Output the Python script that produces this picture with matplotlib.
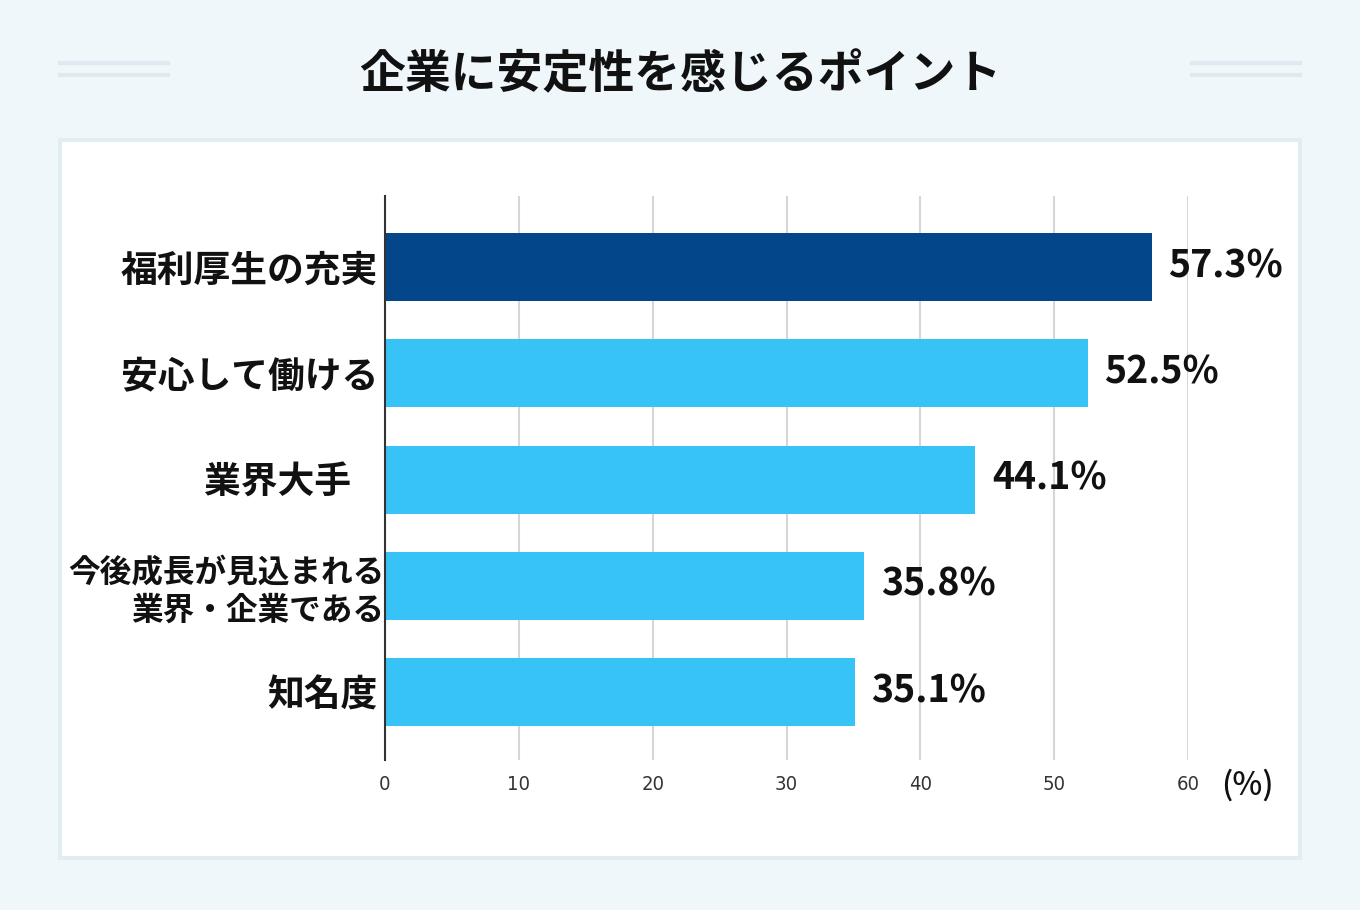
import matplotlib.pyplot as plt
from matplotlib.patches import Rectangle
from matplotlib.lines import Line2D
from matplotlib.transforms import ScaledTranslation

plt.rcParams['font.family'] = ['Noto Sans CJK JP', 'DejaVu Sans']

# データ
categories = ["福利厚生の充実", "安心して働ける", "業界大手\u2002 ", "今後成長が見込まれる\n業界・企業である", "知名度"]
values = [57.3, 52.5, 44.1, 35.8, 35.1]
value_labels = ["57.3%", "52.5%", "44.1%", "35.8%", "35.1%"]
xticks = [0, 10, 20, 30, 40, 50, 60]
title = "企業に安定性を感じるポイント"

bg = "#eff7fb"
navy = "#03468a"
sky = "#38c3f7"
colors = [navy, sky, sky, sky, sky]

fig = plt.figure(figsize=(13.6, 9.1), dpi=100, facecolor=bg)

# 白いパネル
fig.patches.append(Rectangle((60 / 1360, 1 - 858 / 910), 1240 / 1360, 718 / 910,
                             transform=fig.transFigure, facecolor="white",
                             edgecolor="#e2edf2", linewidth=3, zorder=-5))

# タイトル横の飾り線
for y in [63, 75]:
    for x0, x1 in [(60, 168), (1192, 1300)]:
        fig.lines.append(Line2D([x0 / 1360, x1 / 1360], [1 - y / 910, 1 - y / 910],
                                transform=fig.transFigure, color="#e0e9f0", linewidth=3))

fig.text(0.5, 1 - 75 / 910, title, ha="center", va="center",
         fontsize=33, fontweight="bold", color="#111111")

ax = fig.add_axes([385 / 1360, 1 - 760 / 910, 803 / 1360, 564 / 910])
ax.set_zorder(2)
ax.set_facecolor("none")

pos = list(range(len(categories)))
bars = ax.barh(pos, values, height=0.64, color=colors, zorder=3)

ax.set_xlim(0, 60)
ax.set_ylim(len(categories) - 1 + 0.64, -0.67)

ax.set_xticks(xticks)
ax.set_xticklabels([str(t) for t in xticks], fontsize=14.5, color="#333333",
                   family="DejaVu Sans", fontstretch="condensed")
ax.tick_params(axis="x", length=0, pad=11)
ax.grid(axis="x", color="#d6d6d6", linewidth=1.5, zorder=0)
ax.set_axisbelow(True)

ax.set_yticks(pos)
ax.set_yticklabels(categories, fontsize=26.5, fontweight="bold", color="#111111")
ax.tick_params(axis="y", length=0, pad=5)
for lbl in ax.get_yticklabels():
    if "\n" in lbl.get_text():
        lbl.set_fontsize(22.8)
        lbl.set_linespacing(1.22)
        lbl.set_transform(lbl.get_transform() + ScaledTranslation(0.06, 0, fig.dpi_scale_trans))

for s in ["top", "right", "bottom"]:
    ax.spines[s].set_visible(False)
ax.spines["left"].set_color("#333333")
ax.spines["left"].set_linewidth(1.5)
ax.spines["left"].set_zorder(4)

for b, txt in zip(bars, value_labels):
    ax.annotate(txt, (b.get_width(), b.get_y() + b.get_height() / 2),
                xytext=(12, 1), textcoords="offset points", ha="left", va="center",
                fontsize=27, fontweight="bold", color="#111111",
                annotation_clip=False, zorder=5)

ax.annotate("(%)", (60, len(categories) - 1 + 0.64), xytext=(24, -18),
            textcoords="offset points", ha="left", va="center",
            fontsize=23, fontweight="medium", color="#111111", annotation_clip=False)

fig.savefig("out.png", dpi=100, facecolor=bg)
